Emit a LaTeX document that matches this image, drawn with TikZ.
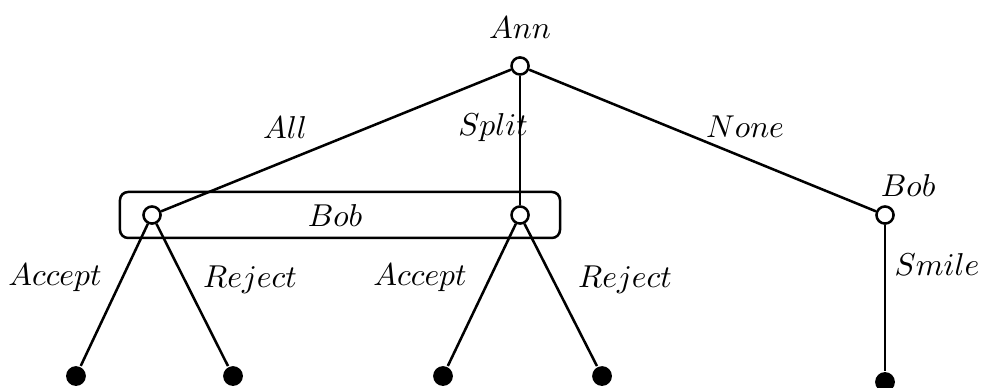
\documentclass[tikz,border=0pt]{standalone}
\usetikzlibrary{positioning}
\tikzset{
  choice/.style={circle,draw,fill=white,thick,inner sep=0pt,minimum size=0.19cm},
  payoff/.style={circle,fill=black,inner sep=0pt,minimum size=0.22cm},
  move/.style={inner sep=1pt}
}
\begin{document}
\begin{tikzpicture}[thick]
	\useasboundingbox (0,0) rectangle (10.944,4.3);
	% information set of Bob
	\draw[rounded corners=0.09cm] (1.333,1.656) rectangle (6.222,2.167);
	\node[choice] (ann) at (5.778,3.567) {};
	\node[choice] (bobA) at (1.689,1.911) {};
	\node[choice] (bobS) at (5.778,1.911) {};
	\node[choice] (bobN) at (9.833,1.911) {};
	\node[payoff] (aa) at (0.844,0.122) {};
	\node[payoff] (ar) at (2.589,0.122) {};
	\node[payoff] (sa) at (4.922,0.122) {};
	\node[payoff] (sr) at (6.689,0.122) {};
	\node[payoff] (ns) at (9.833,0.056) {};
	\draw (ann) -- (bobA);
	\draw (ann) -- (bobS);
	\draw (ann) -- (bobN);
	\draw (bobA) -- (aa);
	\draw (bobA) -- (ar);
	\draw (bobS) -- (sa);
	\draw (bobS) -- (sr);
	\draw (bobN) -- (ns);
	\node[above=0.07cm of ann] (annlab) {$Ann$};
	\node (boblab) at (3.722,1.911) {$Bob$};
	\node (bobnlab) at (10.09,2.244) {$Bob$};
	\node[move] (all) at (3.167,2.878) {$All$};
	\node[move] (split) at (5.478,2.878) {$Split$};
	\node[move] (none) at (8.278,2.889) {$None$};
	\node[move] (acc1) at (0.611,1.211) {$Accept$};
	\node[move] (rej1) at (2.778,1.189) {$Reject$};
	\node[move] (acc2) at (4.667,1.211) {$Accept$};
	\node[move] (rej2) at (6.944,1.189) {$Reject$};
	\node[move] (smile) at (10.411,1.356) {$Smile$};
\end{tikzpicture}
\end{document}
